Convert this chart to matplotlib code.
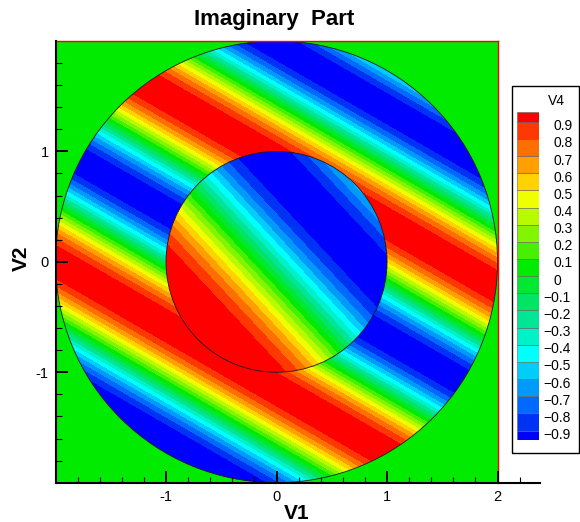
import numpy as np
import matplotlib
matplotlib.use('Agg')
import matplotlib.pyplot as plt
from matplotlib.patches import Circle, Rectangle
from matplotlib import transforms

plt.rcParams['font.family'] = ['Liberation Sans', 'DejaVu Sans']
plt.rcParams['axes.unicode_minus'] = False

# contour levels shown in the legend
levels = [-0.9, -0.8, -0.7, -0.6, -0.5, -0.4, -0.3, -0.2, -0.1, 0.0,
          0.1, 0.2, 0.3, 0.4, 0.5, 0.6, 0.7, 0.8, 0.9]
level_labels = ['-0.9', '-0.8', '-0.7', '-0.6', '-0.5', '-0.4', '-0.3', '-0.2', '-0.1', '0',
                '0.1', '0.2', '0.3', '0.4', '0.5', '0.6', '0.7', '0.8', '0.9']

# one colour per band, below -0.9 ... above 0.9
band_colors = ['#0000ff', '#0032f5', '#0069ff', '#009bfa', '#00cdfa', '#00ffff',
               '#00f0c8', '#00e696', '#00e664', '#00e832', '#00eb00', '#46f000',
               '#82f500', '#b9fa00', '#f0ff00', '#ffd200', '#ffa000', '#ff6e00',
               '#ff3700', '#ff0000']

# domain and wave parameters
outer_radius = 2.0
inner_radius = 1.0
outer_angle = 60.0      # degrees, normal to the stripes
outer_period = 1.8
outer_peak = -1.0       # position of a crest along the normal
inner_angle = 43.0
inner_period = 2.8
inner_zero = -0.12      # zero crossing along the normal

x = np.linspace(-2, 2, 801)
X, Y = np.meshgrid(x, x)

a = np.radians(outer_angle)
p_out = X * np.cos(a) + Y * np.sin(a)
Z_out = np.cos(2 * np.pi * (p_out - outer_peak) / outer_period)

b = np.radians(inner_angle)
p_in = X * np.cos(b) + Y * np.sin(b)
Z_in = -np.sin(2 * np.pi * (p_in - inner_zero) / inner_period)

fig = plt.figure(figsize=(5.8, 5.22), dpi=100)
ax = fig.add_axes([0.0957, 0.0753, 0.8355, 0.8462])
ax.set_axisbelow(False)

# background (value 0 outside the annulus)
ax.add_patch(Rectangle((-2, -2), 4, 4, facecolor=band_colors[10], edgecolor='none', zorder=0))

cf_out = ax.contourf(X, Y, Z_out, levels=levels, colors=band_colors, extend='both', zorder=1)
cf_out.set_clip_path(Circle((0, 0), outer_radius, transform=ax.transData))
cf_in = ax.contourf(X, Y, Z_in, levels=levels, colors=band_colors, extend='both', zorder=1.2)
cf_in.set_clip_path(Circle((0, 0), inner_radius, transform=ax.transData))

ax.add_patch(Circle((0, 0), outer_radius, fill=False, ec='#1a1a1a', lw=0.6, zorder=1.4))
ax.add_patch(Circle((0, 0), inner_radius, fill=False, ec='#1a1a1a', lw=0.6, zorder=1.4))

ax.plot([-2, 2], [2, 2], color='red', lw=1.0, zorder=2.2, clip_on=False)
ax.plot([2, 2], [-2, 2], color='red', lw=1.0, zorder=2.2, clip_on=False)

ax.set_xlim(-2, 2.385)
ax.set_ylim(-2, 2)
ax.spines['top'].set_visible(False)
ax.spines['right'].set_visible(False)
for s in ['left', 'bottom']:
    ax.spines[s].set_linewidth(1.5)

ax.set_xticks([-1, 0, 1, 2])
ax.set_xticks(np.round(np.arange(-1.8, 2.3, 0.2), 1), minor=True)
ax.set_yticks([-1, 0, 1])
ax.set_yticks(np.round(np.arange(-1.8, 1.9, 0.2), 1), minor=True)
ax.set_xticklabels(['-1', '0', '1', '2'])
ax.set_yticklabels(['-1', '0', '1'])
ax.tick_params(which='major', direction='in', length=8.5, width=1.4, labelsize=10.5, pad=5)
ax.tick_params(which='minor', direction='in', length=4.3, width=0.8)

fig.text(274 / 580, 1 - 25 / 522, 'Imaginary  Part', ha='center', va='baseline',
         fontsize=16, fontweight='bold')
fig.text(297 / 580, 1 - 519 / 522, 'V1', ha='center', va='baseline', fontsize=15, fontweight='bold')
fig.text(21.5 / 580, 1 - 258 / 522, 'V2', rotation=90, ha='center', va='center',
         fontsize=15, fontweight='bold')

# legend box
fig.add_artist(Rectangle((512 / 580, 1 - 453 / 522), 67 / 580, 367 / 522, fill=False,
                         ec='black', lw=1, transform=fig.transFigure))
fig.text(565 / 580, 1 - 101 / 522, 'V4', ha='right', va='center', fontsize=10)

# legend colour blocks, half-height blocks at both ends
cax = fig.add_axes([516.7 / 580, 1 - 440 / 522, 22.3 / 580, 327.7 / 522])
edges = [-0.955] + levels + [0.955]
for i, c in enumerate(band_colors):
    cax.bar(0, edges[i + 1] - edges[i], bottom=edges[i], width=1, color=c,
            edgecolor='#606060', linewidth=0.4)
cax.set_xlim(-0.5, 0.5)
cax.set_ylim(edges[0], edges[-1])
cax.axis('off')

# labels sit a little below their block boundary, as in the original legend
trans = transforms.blended_transform_factory(fig.transFigure, cax.transData)
trans = transforms.offset_copy(trans, fig=fig, y=-4.5, units='dots')
for v, lab in zip(levels, level_labels):
    xpos = 553 / 580 if v >= 0 else 543 / 580
    cax.text(xpos, v, lab.replace('-', '\u2212'), transform=trans, ha='left', va='center',
             fontsize=10, clip_on=False)

fig.savefig('out.png', dpi=100)
